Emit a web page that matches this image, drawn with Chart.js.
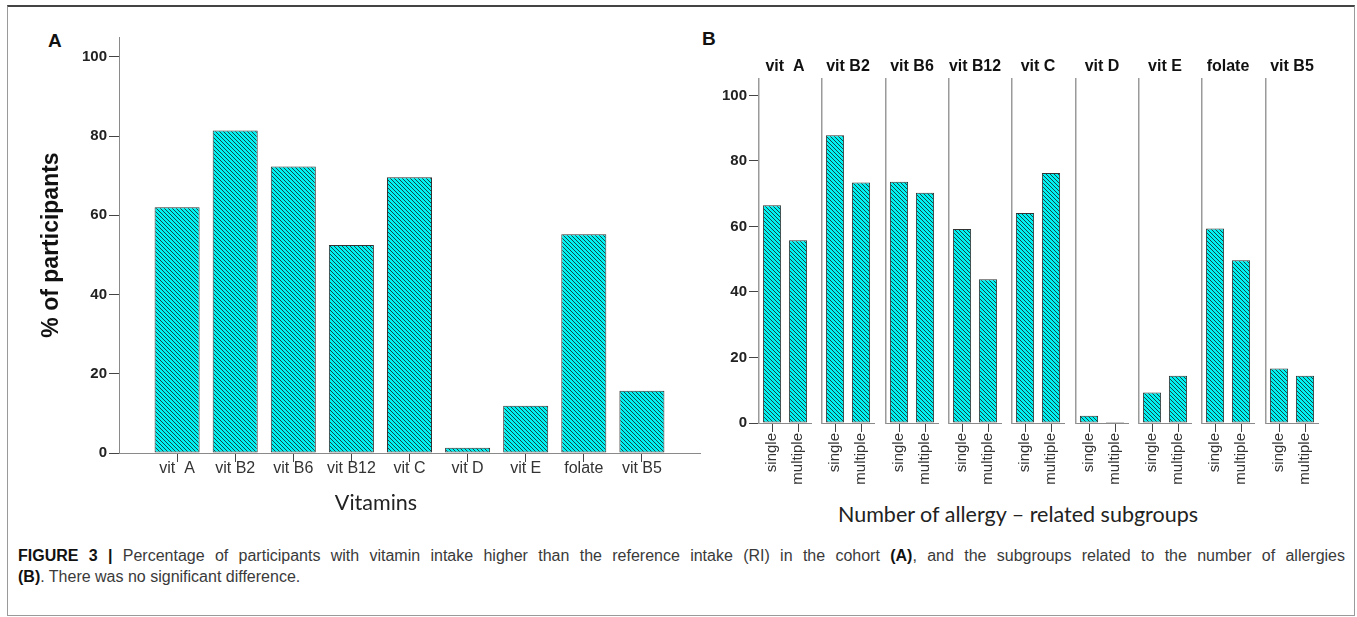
<!DOCTYPE html>
<html>
<head>
<meta charset="utf-8">
<script src="https://cdn.jsdelivr.net/npm/chart.js@4.4.1/dist/chart.umd.min.js"></script>
<style>
  html, body { margin: 0; padding: 0; background: #fff; }
  body { width: 1357px; height: 617px; position: relative; overflow: hidden; font-family: "Liberation Sans", Arial, sans-serif; }
  .frame { position: absolute; left: 7px; top: 5px; width: 1348px; height: 611px; box-sizing: border-box;
           border: 1px solid #9a9a9a; border-top: 2px solid #444; }
  canvas { position: absolute; }
  .letter { position: absolute; font: bold 19px "Liberation Sans", Arial, sans-serif; color: #111; line-height: 1; }
  .xtitle { position: absolute; font: 21.5px Lato, "Open Sans", sans-serif; color: #222; white-space: nowrap;
            transform: translate(-50%, -50%); }
  .caption { position: absolute; left: 18px; width: 1327px; font-size: 16px; line-height: 21px; color: #3a3a3a;
             font-family: "Liberation Sans", Arial, sans-serif; white-space: nowrap; }
  .caption.full { text-align: justify; text-align-last: justify; white-space: normal; }
  .caption b { color: #111; }
</style>
</head>
<body>
<div class="frame"></div>
<div class="letter" style="left:48px; top:31px;">A</div>
<div class="letter" style="left:702px; top:29px;">B</div>
<canvas id="chartA" width="710" height="515" style="left:0; top:0;"></canvas>
<div id="facets"></div>
<div class="xtitle" style="left:376px; top:502px;">Vitamins</div>
<div class="xtitle" style="left:1018px; top:514px;">Number of allergy – related subgroups</div>
<div class="caption full" style="top:545px;"><b>FIGURE 3 |</b> Percentage of participants with vitamin intake higher than the reference intake (RI) in the cohort <b>(A)</b>, and the subgroups related to the number of allergies</div>
<div class="caption" style="top:566px;"><b>(B)</b>. There was no significant difference.</div>

<script>
// panel A: whole cohort
const vitamins = ['vit  A', 'vit B2', 'vit B6', 'vit B12', 'vit C', 'vit D', 'vit E', 'folate', 'vit B5'];
const cohortValues = [62.0, 81.4, 72.3, 52.5, 69.6, 1.3, 11.9, 55.2, 15.7];

// panel B: by number of allergies
const groups = ['single', 'multiple'];
const singleValues = [66.5, 87.8, 73.6, 59.2, 64.1, 2.2, 9.3, 59.4, 16.6];
const multipleValues = [55.8, 73.4, 70.3, 43.9, 76.3, 0, 14.4, 49.7, 14.4];

const yMax = 105;
const yStep = 20;

function makeHatch() {
  const tile = document.createElement('canvas');
  tile.width = 4;
  tile.height = 4;
  const g = tile.getContext('2d');
  g.fillStyle = '#00f2f2';
  g.fillRect(0, 0, 4, 4);
  g.strokeStyle = '#163434';
  g.lineWidth = 0.9;
  g.beginPath();
  g.moveTo(-1, -1); g.lineTo(5, 5);
  g.moveTo(-1, 3); g.lineTo(1, 5);
  g.moveTo(3, -1); g.lineTo(5, 1);
  g.stroke();
  return g.createPattern(tile, 'repeat');
}

const hatch = makeHatch();
const axisGray = '#8a8a8a';
const tickDark = '#444';
const yTickFont = { family: '"Liberation Sans", Arial, sans-serif', size: 15, weight: 'bold' };

function renderCohortChart() {
  const labels = [''].concat(vitamins, ['']);
  const data = [null].concat(cohortValues, [null]);
  const last = labels.length - 1;

  new Chart(document.getElementById('chartA'), {
    type: 'bar',
    data: {
      labels,
      datasets: [{
        data,
        backgroundColor: hatch,
        borderColor: '#333',
        borderWidth: 1,
        borderSkipped: false,
        categoryPercentage: 1,
        barPercentage: 0.775
      }]
    },
    options: {
      responsive: false,
      animation: false,
      layout: { padding: { left: 0, right: 10, top: 37, bottom: 0 } },
      plugins: { legend: { display: false }, tooltip: { enabled: false } },
      scales: {
        x: {
          offset: false,
          afterFit: s => { s.height = 62; },
          grid: {
            offset: false,
            drawOnChartArea: false,
            tickLength: 9,
            tickColor: ctx => (ctx.index === 0 || ctx.index === last) ? 'rgba(0,0,0,0)' : tickDark
          },
          border: { color: axisGray, width: 1 },
          ticks: {
            color: '#333',
            font: { family: '"Liberation Sans", Arial, sans-serif', size: 16 },
            padding: -3,
            maxRotation: 0,
            autoSkip: false
          }
        },
        y: {
          min: 0,
          max: yMax,
          afterFit: s => { s.width = 119; },
          grid: { drawOnChartArea: false, tickLength: 10, tickColor: tickDark },
          border: { color: axisGray, width: 1 },
          ticks: { stepSize: yStep, includeBounds: false, color: '#222', font: yTickFont, padding: 2 },
          title: {
            display: true,
            text: '% of participants',
            color: '#111',
            font: { family: '"Liberation Sans", Arial, sans-serif', size: 23, weight: 'bold' },
            padding: { top: 38, bottom: 0 }
          }
        }
      }
    }
  });
}

function renderFacet(i) {
  const left = Math.round(759 + 63.35 * i);
  const canvas = document.createElement('canvas');
  canvas.width = 120;
  canvas.height = 490;
  canvas.style.left = (left - 60) + 'px';
  canvas.style.top = '0px';
  document.getElementById('facets').appendChild(canvas);
  const first = i === 0;

  new Chart(canvas, {
    type: 'bar',
    data: {
      labels: groups,
      datasets: [{
        data: [singleValues[i], multipleValues[i]],
        backgroundColor: hatch,
        borderColor: '#333',
        borderWidth: 1,
        borderSkipped: false,
        minBarLength: 1,
        categoryPercentage: 1,
        barPercentage: 0.7
      }]
    },
    options: {
      responsive: false,
      animation: false,
      layout: { padding: { left: 0, right: 5, top: 0, bottom: 0 } },
      plugins: {
        legend: { display: false },
        tooltip: { enabled: false },
        title: {
          display: true,
          fullSize: false,
          text: vitamins[i],
          color: '#111',
          font: { family: '"Liberation Sans", Arial, sans-serif', size: 16, weight: 'bold' },
          padding: { top: 57.4, bottom: 2.4 }
        }
      },
      scales: {
        x: {
          afterFit: s => { s.height = 67; },
          grid: { offset: false, drawOnChartArea: false, tickLength: 9, tickColor: tickDark },
          border: { color: axisGray, width: 1 },
          ticks: {
            color: '#333',
            font: { family: '"Liberation Sans", Arial, sans-serif', size: 15 },
            minRotation: 90,
            maxRotation: 90,
            padding: 1,
            autoSkip: false
          }
        },
        y: {
          min: 0,
          max: yMax,
          afterFit: s => { s.width = 60; },
          grid: { drawOnChartArea: false, drawTicks: first, tickLength: 10, tickColor: tickDark },
          border: { color: '#9a9a9a', width: 1.5 },
          ticks: { display: first, stepSize: yStep, includeBounds: false, color: '#222', font: yTickFont, padding: 2 }
        }
      }
    }
  });
}

renderCohortChart();
for (let i = 0; i < vitamins.length; i++) renderFacet(i);
</script>
</body>
</html>
